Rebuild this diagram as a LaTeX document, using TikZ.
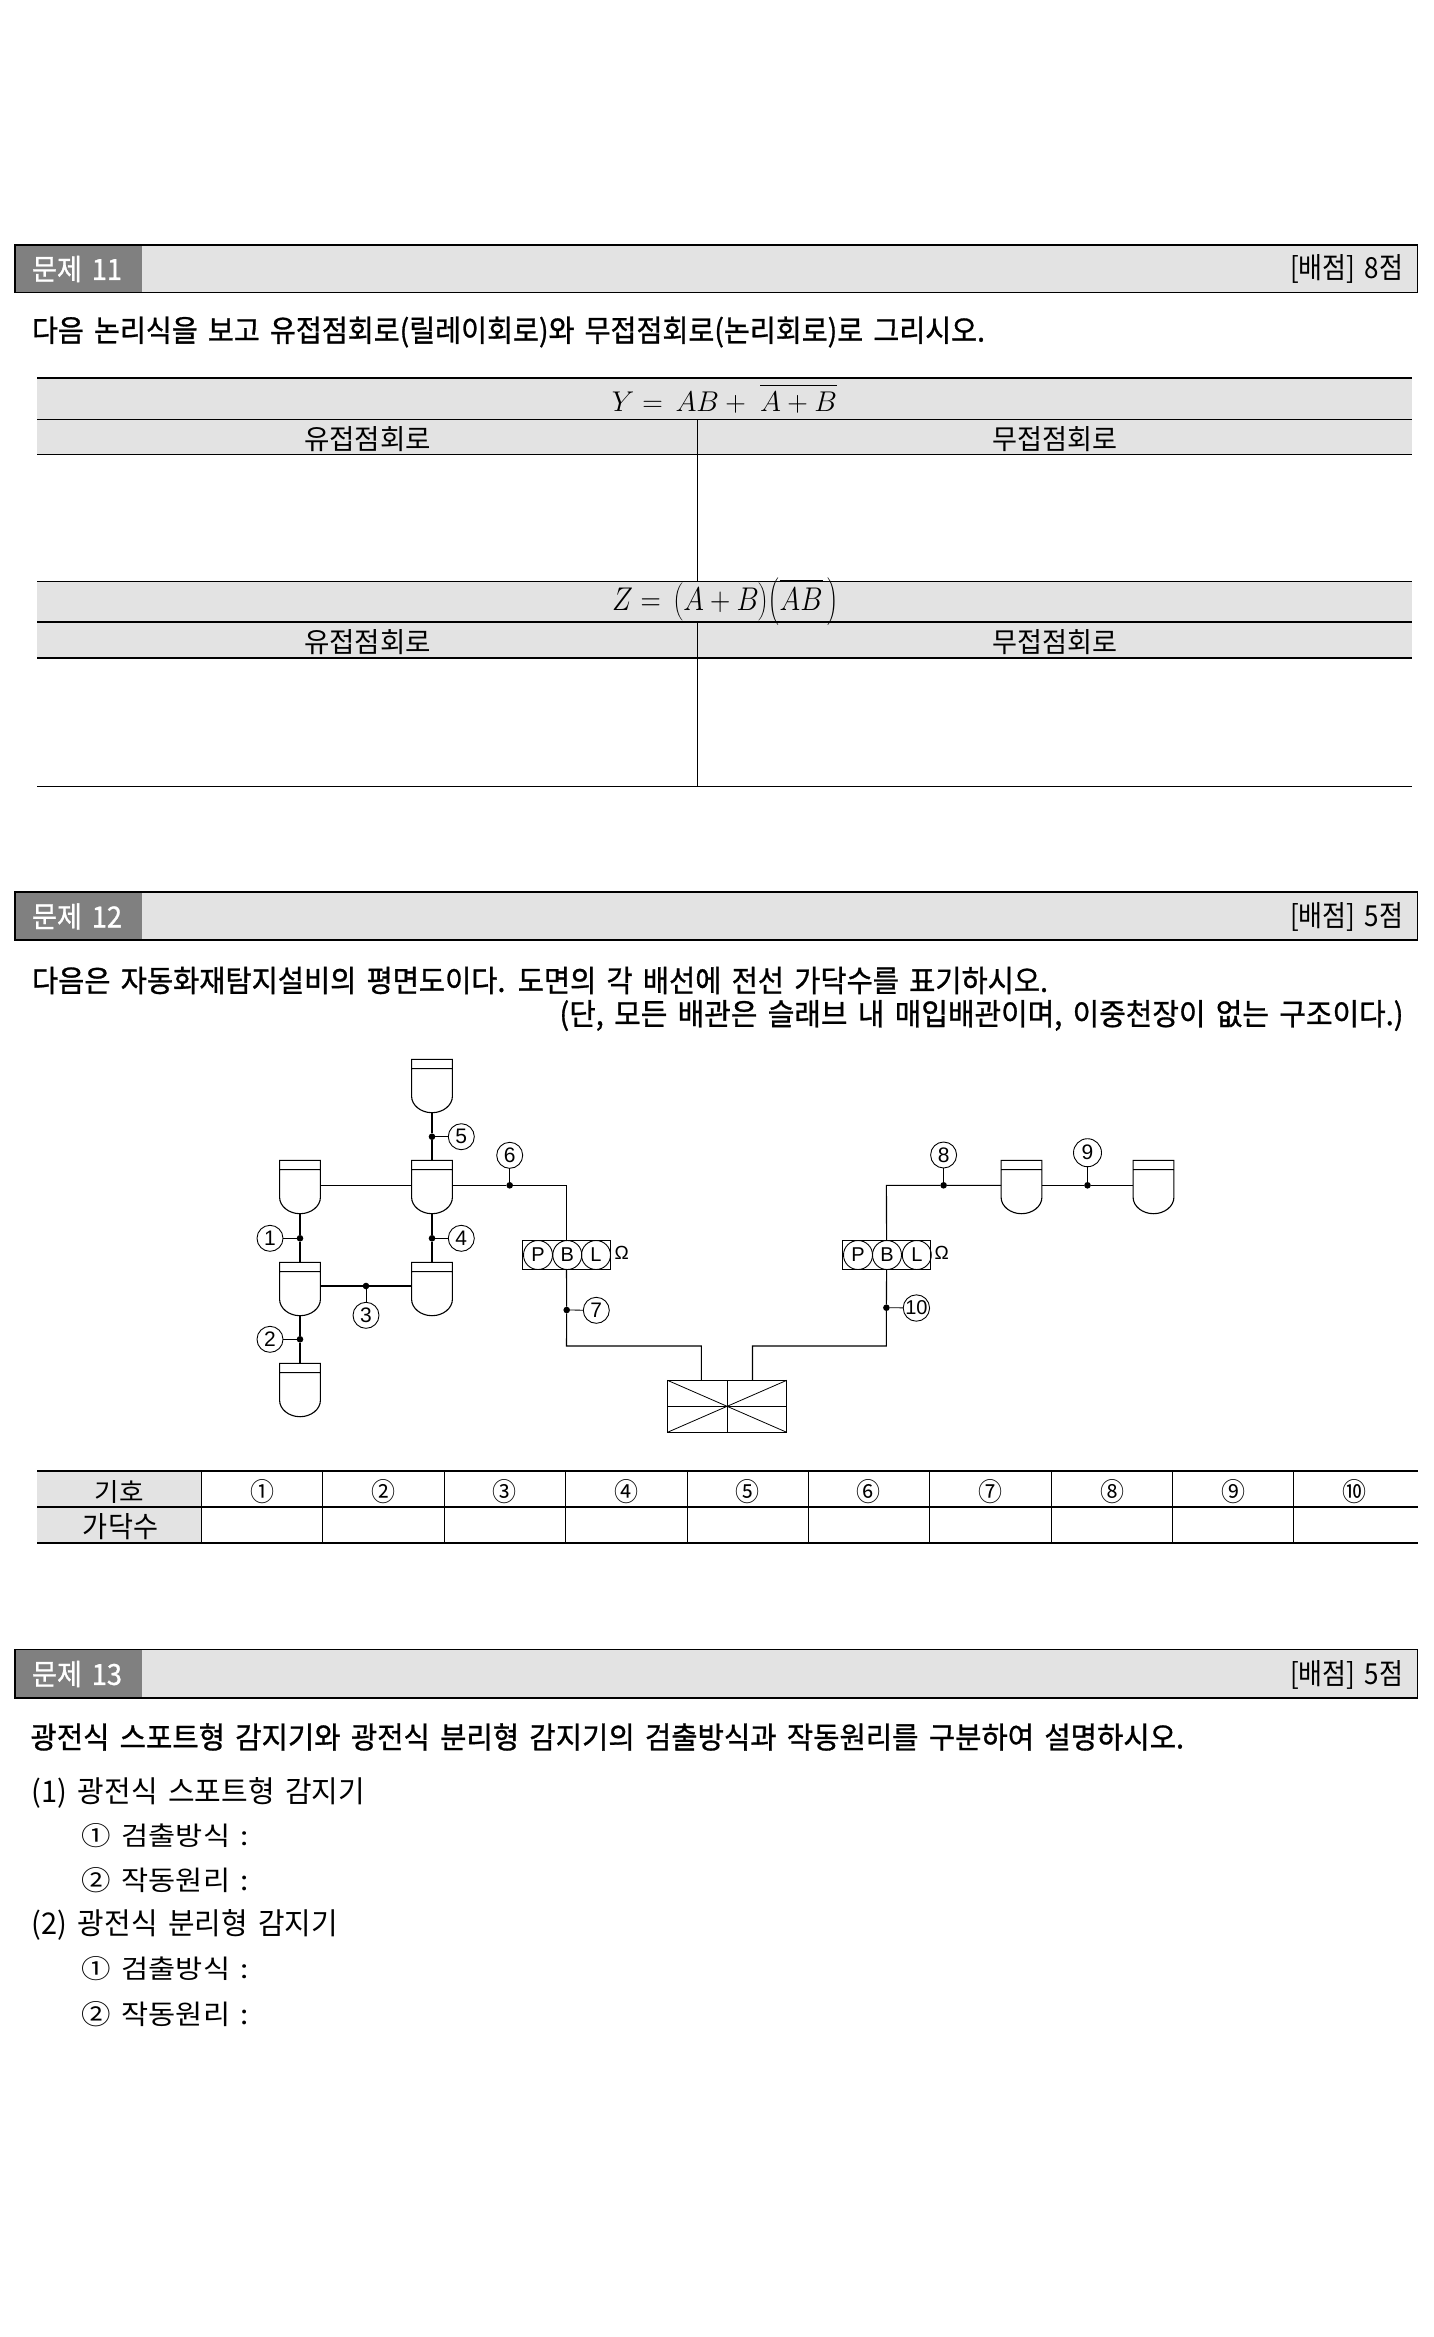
\documentclass[tikz,border=0pt]{standalone}
\usepackage{fontspec}
\usepackage{graphicx}
\newfontfamily\krreg[WordSpace=1.6]{Noto Sans CJK KR}
\newfontfamily\krbold[WordSpace=1.6,FakeBold=1]{Noto Sans CJK KR}
\newfontfamily\latin{Liberation Sans}
\definecolor{bandgray}{HTML}{E3E3E3}
\definecolor{darkgray}{HTML}{808080}
\tikzset{
  txt/.style={inner sep=0pt,outer sep=0pt,anchor=center,font=\krreg\fontsize{22}{22}\selectfont},
  boldtxt/.style={txt,font=\krbold\fontsize{22}{22}\selectfont},
  hairline/.style={line width=0.8pt,black},
  rule/.style={line width=1.25pt,black},
  wire/.style={line width=1.1pt,black},
  detbody/.style={inner sep=0pt,outer sep=0pt,minimum width=40.8pt,minimum height=53.4pt,anchor=north},
  junction/.style={circle,fill=black,inner sep=0pt,outer sep=0pt,minimum size=6.6pt},
  callout/.style={circle,draw=black,line width=0.9pt,fill=white,inner sep=0pt,outer sep=0pt,minimum size=26pt,font=\latin\fontsize{21}{21}\selectfont},
  lamp/.style={circle,draw=black,line width=0.9pt,inner sep=0pt,outer sep=0pt,minimum size=29pt,font=\latin\fontsize{20}{20}\selectfont},
  ohm/.style={inner sep=0pt,outer sep=0pt,font=\latin\fontsize{19}{19}\selectfont},
}
% text fitted to an exact width and height, centred on x,y
\newcommand{\fitted}[8]{\node[#1] (#2) at ({(#3+#4)/2},#5) {\resizebox{\dimexpr#4pt-#3pt\relax}{#6pt}{#7#8}};}
% smoke detector symbol
\newcommand{\detector}[3]{%
  \node[detbody] (#1) at (#2,#3) {};
  \draw[wire,shift={(#2,#3)}] (-20.4,9.3) -- (20.4,9.3)
    (-20.4,37) -- (-20.4,0) -- (20.4,0) -- (20.4,37)
    .. controls (20.4,46) and (11,53.4) .. (0,53.4)
    .. controls (-11,53.4) and (-20.4,46) .. (-20.4,37);
}
% header band
\newcommand{\headerband}[7]{%
  \fill[bandgray] (15,#2) rectangle (1417.5,#3);
  \fill[darkgray] (15,#2) rectangle (142,#3);
  \draw[rule] (15,#2) rectangle (1417.5,#3);
  \fitted{boldtxt,white}{#1num}{32}{122}{#4}{24}{}{#5}
  \fitted{txt}{#1pts}{1290}{1403}{#6}{24}{}{#7}
}
\begin{document}
\begin{tikzpicture}[x=1pt,y=-1pt]
\useasboundingbox (0,0) rectangle (1433,2337);
\fill[white] (0,0) rectangle (1433,2337);

%% ---------- 11 ----------
\headerband{hA}{245}{292.5}{269}{문제 11}{269}{[배점] 8점}
\fitted{boldtxt}{introA}{32}{985}{332}{25}{}{다음 논리식을 보고 유접점회로(릴레이회로)와 무접점회로(논리회로)로 그리시오.}

\fill[bandgray] (37,378) rectangle (1412,454.5);
\fill[bandgray] (37,581.5) rectangle (1412,658);
\draw[rule] (37,378) -- (1412,378) (37,419.5) -- (1412,419.5) (37,454.5) -- (1412,454.5);
\draw[hairline] (37,581.5) -- (1412,581.5);
\draw[rule] (37,622) -- (1412,622) (37,658) -- (1412,658);
\draw[hairline] (37,786) -- (1412,786);
\draw[hairline] (697.5,419.5) -- (697.5,581.5) (697.5,622) -- (697.5,786);

\fitted{txt}{eqY}{612}{837}{398.5}{27}{}{$Y=\,AB+\;\overline{\rule{0pt}{0.8em}A+B}$}
\fitted{txt}{eqZ}{612}{838}{602}{32}{}{$Z=\,\left(\rule{0pt}{0.8em}A+B\right)\!\left(\overline{\rule{0pt}{0.8em}AB}\,\right)$}
\fitted{txt}{yuA}{304}{431}{439}{23}{}{유접점회로}
\fitted{txt}{muA}{992}{1117}{439}{23}{}{무접점회로}
\fitted{txt}{yuB}{304}{431}{642}{23}{}{유접점회로}
\fitted{txt}{muB}{992}{1117}{642}{23}{}{무접점회로}

%% ---------- 12 ----------
\headerband{hB}{892}{940}{916.5}{문제 12}{916.5}{[배점] 5점}
\fitted{boldtxt}{introB}{32}{1048}{980.5}{25}{}{다음은 자동화재탐지설비의 평면도이다. 도면의 각 배선에 전선 가닥수를 표기하시오.}
\fitted{boldtxt}{introC}{559.5}{1403.5}{1015.5}{25}{}{(단, 모든 배관은 슬래브 내 매입배관이며, 이중천장이 없는 구조이다.)}

% detectors
\detector{dA}{432}{1059.3}
\detector{dB}{300}{1160.3}
\detector{dC}{432}{1160.3}
\detector{dD}{300}{1262.3}
\detector{dE}{432}{1262.3}
\detector{dF}{300}{1363.3}
\detector{dG}{1021.5}{1160.3}
\detector{dH}{1153.5}{1160.3}

% receivers
\node[draw=black,line width=1.1pt,minimum width=88.4pt,minimum height=29.4pt,inner sep=0pt,outer sep=0pt] (pblA) at (566.5,1255) {};
\node[lamp] (pA) at (538,1255) {P};
\node[lamp] (bA) at (567.3,1255) {B};
\node[lamp] (lA) at (596,1255) {L};
\node[ohm] (omA) at (621.7,1253) {Ω};
\node[draw=black,line width=1.1pt,minimum width=88.2pt,minimum height=29.4pt,inner sep=0pt,outer sep=0pt] (pblB) at (886.6,1255) {};
\node[lamp] (pB) at (858,1255) {P};
\node[lamp] (bB) at (887,1255) {B};
\node[lamp] (lB) at (916.8,1255) {L};
\node[ohm] (omB) at (941.8,1253) {Ω};

% panel
\node[draw=black,line width=1.1pt,minimum width=119.3pt,minimum height=52pt,inner sep=0pt,outer sep=0pt] (panel) at (727.1,1406.3) {};
\draw[hairline] (panel.north west) -- (panel.south east) (panel.south west) -- (panel.north east);
\draw[hairline] (panel.north) -- (panel.south) (panel.west) -- (panel.east);

% junctions
\node[junction] (jA) at (300,1238.3) {};
\node[junction] (jB) at (300,1339.3) {};
\node[junction] (jC) at (366,1286) {};
\node[junction] (jD) at (432,1238.3) {};
\node[junction] (jE) at (432,1136.7) {};
\node[junction] (jF) at (509.7,1185.3) {};
\node[junction] (jG) at (566.7,1310) {};
\node[junction] (jH) at (943.6,1185.3) {};
\node[junction] (jI) at (1087.5,1185.3) {};
\node[junction] (jJ) at (886.4,1307.7) {};

% callouts
\node[callout] (cA) at (270,1238.3) {1};
\node[callout] (cB) at (270,1339.3) {2};
\node[callout] (cC) at (366,1315.3) {3};
\node[callout] (cD) at (461.3,1238.3) {4};
\node[callout] (cE) at (461.3,1136.7) {5};
\node[callout] (cF) at (509.7,1155.3) {6};
\node[callout] (cG) at (596.3,1310.3) {7};
\node[callout] (cH) at (943.6,1155) {8};
\node[callout,minimum size=28pt] (cI) at (1087.5,1152.7) {9};
\node[callout,font=\latin\fontsize{20}{20}\selectfont] (cJ) at (916.4,1308) {10};

\coordinate (turnA) at (566.5,1185.3);
\coordinate (turnB) at (566.5,1346);
\coordinate (turnC) at (701.4,1346);
\coordinate (turnD) at (752.5,1346);
\coordinate (turnE) at (886.4,1346);
\coordinate (turnF) at (886.4,1185.3);
\coordinate (panelL) at (701.4,1380.3);
\coordinate (panelR) at (752.5,1380.3);

\draw[wire] (dA.south) -- (jE) -- (dC.north);
\draw[wire] (dC.south) -- (jD) -- (dE.north);
\draw[wire] (dB.south) -- (jA) -- (dD.north);
\draw[wire] (dD.south) -- (jB) -- (dF.north);
\draw[wire] ([yshift=1.7pt]dB.east) -- ([yshift=1.7pt]dC.west);
\draw[wire] ([yshift=3pt]dD.east) -- (jC) -- ([yshift=3pt]dE.west);
\draw[wire] ([yshift=1.7pt]dC.east) -- (jF) -- (turnA) -- (pblA.north);
\draw[wire] (pblA.south) -- (jG) -- (turnB) -- (turnC) -- (panelL);
\draw[wire] (panelR) -- (turnD) -- (turnE) -- (jJ) -- (pblB.south);
\draw[wire] (pblB.north) -- (turnF) -- (jH) -- ([yshift=1.7pt]dG.west);
\draw[wire] ([yshift=1.7pt]dG.east) -- (jI) -- ([yshift=1.7pt]dH.west);
\draw[hairline] (cA) -- (jA);
\draw[hairline] (cB) -- (jB);
\draw[hairline] (cC) -- (jC);
\draw[hairline] (cD) -- (jD);
\draw[hairline] (cE) -- (jE);
\draw[hairline] (cF) -- (jF);
\draw[hairline] (cG) -- (jG);
\draw[hairline] (cH) -- (jH);
\draw[hairline] (cI) -- (jI);
\draw[hairline] (cJ) -- (jJ);

% wire-count table
\fill[bandgray] (37,1471) rectangle (201.5,1543);
\draw[rule] (37,1471) -- (1417.5,1471) (37,1507) -- (1417.5,1507) (37,1543) -- (1417.5,1543);
\draw[hairline] (201.5,1471) -- (201.5,1543) (322.5,1471) -- (322.5,1543) (444,1471) -- (444,1543)
  (565,1471) -- (565,1543) (687,1471) -- (687,1543) (808,1471) -- (808,1543) (929.6,1471) -- (929.6,1543)
  (1051.7,1471) -- (1051.7,1543) (1172.5,1471) -- (1172.5,1543) (1293.8,1471) -- (1293.8,1543);
\fitted{txt}{rowA}{95}{144}{1492}{21}{}{기호}
\fitted{txt}{rowB}{83}{158}{1527}{24}{}{가닥수}
\fitted{txt}{nA}{250}{274}{1492}{22}{}{①}
\fitted{txt}{nB}{371}{395}{1492}{22}{}{②}
\fitted{txt}{nC}{492.5}{516.5}{1492}{22}{}{③}
\fitted{txt}{nD}{614}{638}{1492}{22}{}{④}
\fitted{txt}{nE}{735.5}{759.5}{1492}{22}{}{⑤}
\fitted{txt}{nF}{856.5}{880.5}{1492}{22}{}{⑥}
\fitted{txt}{nG}{978.5}{1002.5}{1492}{22}{}{⑦}
\fitted{txt}{nH}{1100}{1124}{1492}{22}{}{⑧}
\fitted{txt}{nI}{1221}{1245}{1492}{22}{}{⑨}
\fitted{txt}{nJ}{1342}{1366}{1492}{22}{}{⑩}

%% ---------- 13 ----------
\headerband{hC}{1649.5}{1698}{1674}{문제 13}{1675}{[배점] 5점}
\fitted{boldtxt}{introD}{30.5}{1184}{1737}{25}{}{광전식 스포트형 감지기와 광전식 분리형 감지기의 검출방식과 작동원리를 구분하여 설명하시오.}
\fitted{txt}{qA}{32}{365}{1792.5}{25}{}{(1) 광전식 스포트형 감지기}
\fitted{txt}{qAa}{81.7}{249}{1836}{22}{}{① 검출방식 :}
\fitted{txt}{qAb}{81.7}{249}{1880}{23}{}{② 작동원리 :}
\fitted{txt}{qB}{32}{338}{1925}{25}{}{(2) 광전식 분리형 감지기}
\fitted{txt}{qBa}{81.7}{249}{1969}{22}{}{① 검출방식 :}
\fitted{txt}{qBb}{81.7}{249}{2014}{23}{}{② 작동원리 :}
\end{tikzpicture}
\end{document}
